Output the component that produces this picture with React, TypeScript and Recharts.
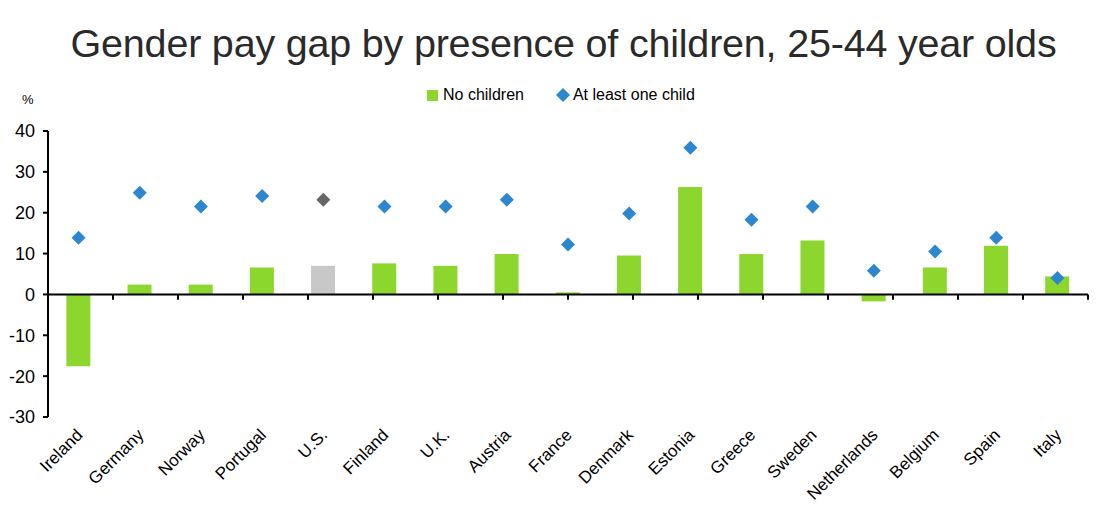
import React from "react";
import {
  ComposedChart, Bar, Scatter, XAxis, YAxis, Cell, ReferenceLine
} from "recharts";

const countries = [
  "Ireland", "Germany", "Norway", "Portugal", "U.S.", "Finland", "U.K.", "Austria",
  "France", "Denmark", "Estonia", "Greece", "Sweden", "Netherlands", "Belgium", "Spain", "Italy",
];
const noChildren = [-17.6, 2.4, 2.4, 6.6, 7.0, 7.6, 7.0, 9.9, 0.5, 9.5, 26.3, 9.9, 13.2, -1.7, 6.6, 11.9, 4.4];
const atLeastOneChild = [13.9, 24.9, 21.5, 24.1, 23.2, 21.5, 21.5, 23.2, 12.2, 19.8, 35.9, 18.3, 21.5, 5.8, 10.5, 13.9, 4.0];
const yTicks = [-30, -20, -10, 0, 10, 20, 30, 40];
const highlight = "U.S.";

const GREEN = "#8dd62e";
const BLUE = "#2d86d0";
const GREY_BAR = "#c8c8c8";
const GREY_DOT = "#666666";
const FONT = "'Liberation Sans', Arial, Helvetica, sans-serif";

const data = countries.map((c, i) => ({
  name: c,
  none: noChildren[i],
  child: atLeastOneChild[i],
}));

const Diamond = (props: any) => {
  const { cx, cy, fill } = props;
  if (cx == null || cy == null) return null;
  const r = 7;
  return <path d={`M${cx},${cy - r}L${cx + r},${cy}L${cx},${cy + r}L${cx - r},${cy}Z`} fill={fill} />;
};

const CountryTick = (props: any) => {
  const { x, y, payload } = props;
  const ax = x + 5;
  const ay = y + 11;
  return (
    <text x={ax} y={ay} textAnchor="end" fontSize={17} fill="#000" fontFamily={FONT}
      transform={`rotate(-45, ${ax}, ${ay})`}>
      {payload.value}
    </text>
  );
};

export default function App() {
  return (
    <div style={{ position: "absolute", left: 0, top: 0, width: 1105, height: 516, background: "#fff", fontFamily: FONT }}>
      <div style={{ position: "absolute", left: 11, top: 21, width: 1105, textAlign: "center", fontSize: 39.5, color: "#2a2a2a", fontWeight: 300, letterSpacing: -0.2 }}>
        Gender pay gap by presence of children, 25-44 year olds
      </div>
      <div style={{ position: "absolute", left: 427, top: 86, display: "flex", alignItems: "center", fontSize: 16, color: "#000" }}>
        <span style={{ display: "inline-block", width: 11, height: 11, background: GREEN, marginRight: 5 }} />
        <span>No children</span>
        <svg width={14} height={14} style={{ marginLeft: 32, marginRight: 3 }}>
          <path d="M7,0L14,7L7,14L0,7Z" fill={BLUE} />
        </svg>
        <span>At least one child</span>
      </div>
      <div style={{ position: "absolute", left: 22, top: 92, fontSize: 13, color: "#000" }}>%</div>
      <div style={{ position: "absolute", left: 0, top: 0 }}>
        <ComposedChart width={1105} height={516} data={data}
          margin={{ top: 131, right: 17, bottom: 0, left: 0 }} barCategoryGap="30%">
          <XAxis dataKey="name" xAxisId="cat" height={99} axisLine={false} tickLine={false}
            interval={0} tick={<CountryTick />} />
          <XAxis xAxisId="num" type="number" domain={[0, countries.length]} hide />
          <YAxis yAxisId="y" domain={[-30, 40]} ticks={yTicks} width={48} interval={0}
            axisLine={{ stroke: "#000", strokeWidth: 2 }} tickLine={{ stroke: "#000", strokeWidth: 2 }}
            tickSize={5} tickMargin={8} tick={{ fill: "#000", fontSize: 18, fontFamily: FONT }} />
          <Bar xAxisId="cat" yAxisId="y" dataKey="none" isAnimationActive={false}>
            {data.map((d) => (
              <Cell key={d.name} fill={d.name === highlight ? GREY_BAR : GREEN} />
            ))}
          </Bar>
          <ReferenceLine xAxisId="cat" yAxisId="y" y={0} stroke="#000" strokeWidth={2} />
          {Array.from({ length: countries.length }, (_, i) => (
            <ReferenceLine key={i} xAxisId="num" yAxisId="y" stroke="#000" strokeWidth={2}
              segment={[{ x: i + 1, y: 0 }, { x: i + 1, y: -1.3 }]} />
          ))}
          <Scatter xAxisId="cat" yAxisId="y" dataKey="child" shape={<Diamond />} isAnimationActive={false}>
            {data.map((d) => (
              <Cell key={d.name} fill={d.name === highlight ? GREY_DOT : BLUE} />
            ))}
          </Scatter>
        </ComposedChart>
      </div>
    </div>
  );
}
